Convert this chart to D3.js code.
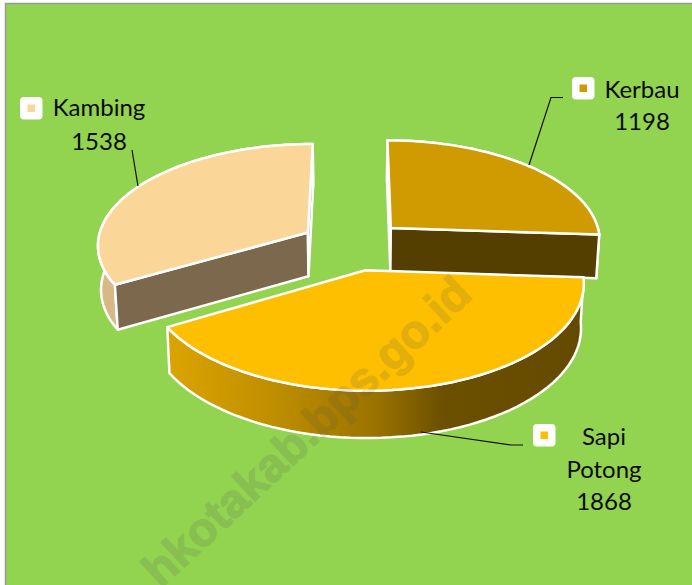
<!DOCTYPE html>
<html>
<head>
<meta charset="utf-8">
<script src="https://cdn.jsdelivr.net/npm/d3@7"></script>
<style>
    html, body { margin: 0; padding: 0; background: #fff; overflow: hidden; }
    svg { display: block; }
    text { font-family: Lato, "Open Sans", sans-serif; fill: #0b0b0b; }
</style>
</head>
<body>
<div id="container"></div>
<script>
var categories = ['Kerbau', 'Sapi Potong', 'Kambing'],
    values = [1198, 1868, 1538];

var svgWidth = 692,
    svgHeight = 585,
    centerX = 353,
    centerY = 245,
    radiusX = 211,
    radiusY = 101,
    perspective = 0.111,
    explode = 0.25,
    depth = 44,
    inset = 0.012,
    turn = 0.1 * Math.PI / 180;

// top face, outer wall, cut wall
var colors = {
    'Kerbau': ['#d09b00', '#553f00', '#553f00'],
    'Sapi Potong': ['#fdbf00', 'url(#sapiWall)', '#664b00'],
    'Kambing': ['#fbd699', '#d9b888', '#7c684c']
};

// label block: key box, text lines, leader line
var labels = [
    { key: 'Kambing', box: [20, 97], lines: [['Kambing', 99, 116], ['1538', 99, 150]], leader: [[132, 150], [138, 186]] },
    { key: 'Kerbau', box: [572, 77], lines: [['Kerbau', 642, 98], ['1198', 642, 130]], leader: [[563, 97.5], [551, 97.5], [529, 165]] },
    { key: 'Sapi Potong', box: [533, 424], lines: [['Sapi', 604, 445], ['Potong', 604, 478], ['1868', 604, 510]], leader: [[421, 432], [511, 445], [523, 445]] }
];

var svg = d3.select('#container')
    .append('svg')
    .attr('width', svgWidth)
    .attr('height', svgHeight);

var gradient = svg.append('defs')
    .append('linearGradient')
    .attr('id', 'sapiWall');

gradient.selectAll('stop')
    .data([[0, '#dba400'], [0.25, '#c08f00'], [0.5, '#9a7300'], [0.66, '#6c5000'], [1, '#644a00']])
    .enter()
    .append('stop')
    .attr('offset', function(d) { return d[0]; })
    .attr('stop-color', function(d) { return d[1]; });

svg.append('rect')
    .attr('x', 5.5)
    .attr('y', 3.5)
    .attr('width', svgWidth)
    .attr('height', svgHeight)
    .attr('fill', '#92d350')
    .attr('stroke', '#9a9a9a')
    .attr('stroke-width', 1.5);

// angles come from the values, the pie is only turned a little
var pie = d3.pie()
    .sort(null)
    .startAngle(turn)
    .endAngle(turn + 2 * Math.PI);

var slices = pie(values).map(function(d, i) {
    d.name = categories[i];
    return d;
});

function project(slice, angle, r, down) {
    var mid = (slice.startAngle + slice.endAngle) / 2,
        x = explode * Math.sin(mid) + r * Math.sin(angle),
        z = -explode * Math.cos(mid) - r * Math.cos(angle),
        s = 1 / (1 - perspective * z);
    return [
        centerX + radiusX * x * s * (down ? 1 - inset : 1),
        centerY + radiusY * z * s + (down ? depth * Math.sqrt(s) : 0)
    ];
}

function arcPoints(slice, down) {
    var n = 60;
    return d3.range(n + 1).map(function(i) {
        var a = slice.startAngle + (slice.endAngle - slice.startAngle) * i / n;
        return project(slice, a, 1, down);
    });
}

var line = d3.line();

function drawFace(g, points, fill) {
    g.append('path')
        .attr('d', line(points) + 'Z')
        .attr('fill', fill)
        .attr('stroke', '#fff')
        .attr('stroke-width', 2.5)
        .attr('stroke-linejoin', 'round');
}

// back slices first, Sapi Potong sits in front of them
['Kambing', 'Kerbau', 'Sapi Potong'].forEach(function(name) {
    var slice = slices.filter(function(d) { return d.name === name; })[0],
        c = colors[name],
        g = svg.append('g'),
        top = arcPoints(slice, false),
        bottom = arcPoints(slice, true),
        apex = project(slice, 0, 0, false),
        apexDown = project(slice, 0, 0, true),
        last = top.length - 1,
        startWall = [apex, top[0], bottom[0], apexDown],
        endWall = [apex, top[last], bottom[last], apexDown];

    drawFace(g, top.concat(bottom.slice().reverse()), c[1]);
    // a cut wall only shows when it turns towards the viewer
    if (d3.polygonArea(startWall) > 0) drawFace(g, startWall, c[2]);
    if (d3.polygonArea(endWall) < 0) drawFace(g, endWall, c[2]);
    drawFace(g, [apex].concat(top), c[0]);
});

svg.append('text')
    .text('hkotakab.bps.go.id')
    .attr('transform', 'translate(474,297) rotate(-43)')
    .attr('text-anchor', 'end')
    .attr('font-size', 47)
    .attr('font-weight', 700)
    .style('font-family', '"Liberation Sans", sans-serif')
    .style('fill', '#505050')
    .style('stroke', '#505050')
    .style('stroke-width', 1.2)
    .attr('opacity', 0.15);

var label = svg.selectAll('.label')
    .data(labels)
    .enter()
    .append('g')
    .attr('class', 'label');

label.append('path')
    .attr('d', function(d) { return line(d.leader); })
    .attr('fill', 'none')
    .attr('stroke', '#111')
    .attr('stroke-width', 1.2);

label.append('rect')
    .attr('x', function(d) { return d.box[0]; })
    .attr('y', function(d) { return d.box[1]; })
    .attr('width', 22.5)
    .attr('height', 22.5)
    .attr('rx', 4)
    .attr('fill', '#fff');

label.append('rect')
    .attr('x', function(d) { return d.box[0] + 7.5; })
    .attr('y', function(d) { return d.box[1] + 7.5; })
    .attr('width', 7.5)
    .attr('height', 7.5)
    .attr('fill', function(d) { return colors[d.key][0]; });

label.selectAll('text')
    .data(function(d) { return d.lines; })
    .enter()
    .append('text')
    .text(function(d) { return d[0]; })
    .attr('x', function(d) { return d[1]; })
    .attr('y', function(d) { return d[2]; })
    .attr('text-anchor', 'middle')
    .attr('font-size', 24);
</script>
</body>
</html>
